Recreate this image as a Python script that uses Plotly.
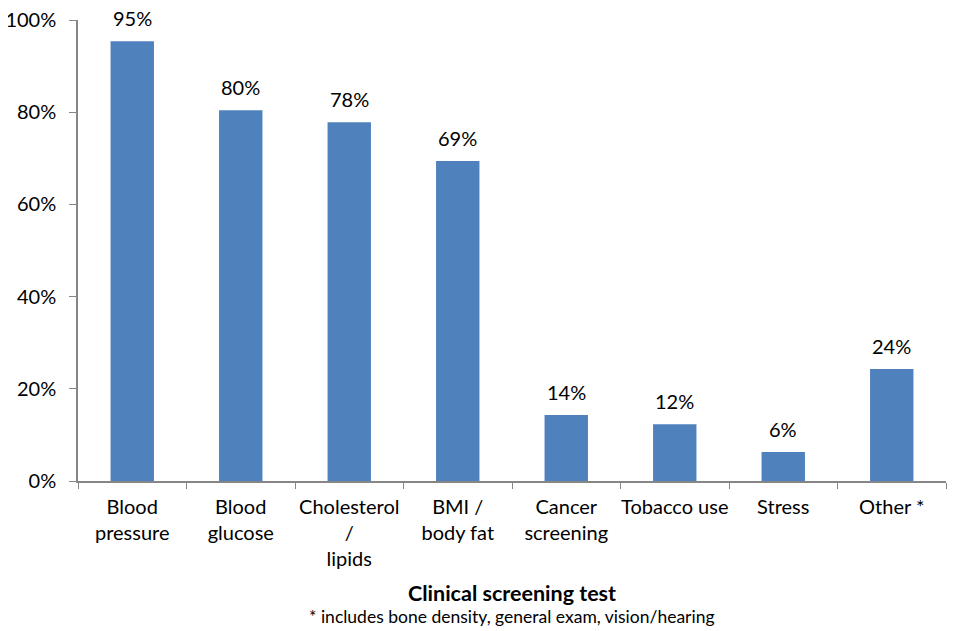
import plotly.graph_objects as go

# Clinical screening tests offered (share of respondents, %)
categories = ["Blood<br>pressure", "Blood<br>glucose", "Cholesterol<br>/<br>lipids",
              "BMI /<br>body fat", "Cancer<br>screening", "Tobacco use", "Stress", "Other *"]
values = [95.4, 80.4, 77.8, 69.4, 14.3, 12.3, 6.3, 24.3]
y_ticks = [0, 20, 40, 60, 80, 100]
y_tick_text = [f"{v}%" for v in y_ticks]

font_name = "Lato"
axis_grey = "#868686"
fs = 20

fig = go.Figure()
fig.add_trace(go.Bar(
    x=categories, y=values,
    marker=dict(color="#4F81BD", line=dict(width=0)),
    hoverinfo="skip",
))

# value labels above the bars
for cat, val in zip(categories, values):
    fig.add_annotation(
        x=cat, y=val, text=f"{val:.0f}%", showarrow=False,
        yanchor="bottom", yshift=9,
        font=dict(family=font_name, size=fs, color="black"),
    )

fig.update_xaxes(
    showline=True, linecolor=axis_grey, linewidth=1.5,
    ticks="outside", tickson="boundaries", ticklen=6, tickcolor=axis_grey,
    tickangle=0, ticklabelstandoff=7, automargin=False,
    tickfont=dict(family=font_name, size=fs, color="black"),
)
fig.update_yaxes(
    range=[0, 100], tickvals=y_ticks, ticktext=y_tick_text,
    showline=True, linecolor=axis_grey, linewidth=1.5,
    ticks="outside", ticklen=7, tickcolor=axis_grey,
    ticklabelstandoff=9, automargin=False, ticklabeloverflow="allow",
    showgrid=False, zeroline=False,
    tickfont=dict(family=font_name, size=fs, color="black"),
)

# axis title and footnote
fig.add_annotation(
    text="<b>Clinical screening test</b>",
    xref="paper", yref="paper", x=0.5, y=-0.243, yanchor="middle", showarrow=False,
    font=dict(family=font_name, size=21.5, color="black"),
)
fig.add_annotation(
    text="* includes bone density, general exam, vision/hearing",
    xref="paper", yref="paper", x=0.5, y=-0.295, yanchor="middle", showarrow=False,
    font=dict(family=font_name, size=17.5, color="black"),
)

# page body adds an 8px offset, so the figure is a bit smaller than the window
fig.update_layout(
    width=959, height=623,
    margin=dict(l=70, r=21, t=12, b=150),
    bargap=0.6, showlegend=False,
    plot_bgcolor="white", paper_bgcolor="white",
)

fig.write_html("out.html")
